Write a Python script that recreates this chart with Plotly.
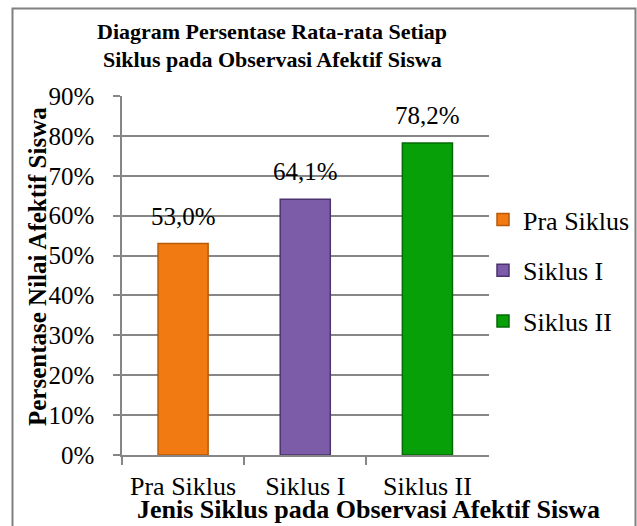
import plotly.graph_objects as go

categories = ["Pra Siklus", "Siklus I", "Siklus II"]
values = [53.0, 64.1, 78.2]
labels = ["53,0%", "64,1%", "78,2%"]
colors = ["#F27A12", "#7C5BA8", "#08A008"]
edge_colors = ["#B85A08", "#4A336E", "#046A04"]
y_ticks = [0, 10, 20, 30, 40, 50, 60, 70, 80, 90]
y_ticktext = [f"{v}%" for v in y_ticks]

FONT = "Liberation Serif"
W, H = 637, 526
PL, PR, PT, PB = 122, 488.5, 96, 455  # plot area in pixels


def fx(x):
    return x / W


def fy(y):
    return 1 - y / H


fig = go.Figure()
for i, c in enumerate(categories):
    fig.add_trace(go.Bar(
        x=[c], y=[values[i]], name=c, width=0.41,
        marker=dict(color=colors[i], line=dict(color=edge_colors[i], width=1.5)),
        legendgroup=c, hoverinfo="skip",
    ))
    fig.add_annotation(x=c, y=values[i], text=labels[i], showarrow=False,
                       yanchor="bottom", yshift=12,
                       font=dict(family=FONT, size=25, color="#000"))

fig.update_layout(
    width=W, height=H,
    margin=dict(l=0, r=0, t=0, b=0, autoexpand=False),
    paper_bgcolor="white", plot_bgcolor="white",
    barmode="overlay",
    showlegend=True,
    legend=dict(x=fx(483), y=fy(196), xanchor="left", yanchor="top",
                font=dict(family=FONT, size=26, color="#000"),
                tracegroupgap=14, itemwidth=30, bgcolor="rgba(0,0,0,0)"),
    xaxis=dict(domain=[fx(PL), fx(PR)], type="category", categoryorder="array",
               categoryarray=categories,
               showgrid=False, showline=True, linecolor="#868686", linewidth=1.5,
               ticks="outside", tickson="boundaries", ticklen=8, tickcolor="#868686",
               tickwidth=1.5, ticklabelstandoff=7,
               tickfont=dict(family=FONT, size=26, color="#000"), range=[-0.5, 2.5]),
    yaxis=dict(domain=[fy(PB), fy(PT)], range=[0, 90], tickvals=y_ticks, ticktext=y_ticktext,
               showgrid=True, gridcolor="#868686", gridwidth=1.5,
               showline=True, linecolor="#868686", linewidth=1.5,
               ticks="outside", ticklen=7, tickcolor="#868686", tickwidth=1.5,
               ticklabelstandoff=14, zeroline=False,
               tickfont=dict(family=FONT, size=25, color="#000")),
)

fig.add_annotation(xref="paper", yref="paper", x=fx(272), y=fy(31),
                   text="<b>Diagram Persentase Rata-rata Setiap</b>", showarrow=False,
                   xanchor="center", yanchor="middle",
                   font=dict(family=FONT, size=22, color="#000"))
fig.add_annotation(xref="paper", yref="paper", x=fx(272), y=fy(59),
                   text="<b>Siklus pada Observasi Afektif Siswa</b>", showarrow=False,
                   xanchor="center", yanchor="middle",
                   font=dict(family=FONT, size=22, color="#000"))
fig.add_annotation(xref="paper", yref="paper", x=fx(368), y=fy(509),
                   text="<b>Jenis Siklus pada Observasi Afektif Siswa</b>", showarrow=False,
                   xanchor="center", yanchor="middle",
                   font=dict(family=FONT, size=26, color="#000"))
fig.add_annotation(xref="paper", yref="paper", x=fx(37), y=fy(267),
                   text="<b>Persentase Nilai Afektif Siswa</b>", showarrow=False, textangle=-90,
                   xanchor="center", yanchor="middle",
                   font=dict(family=FONT, size=25, color="#000"))

fig.add_shape(type="rect", xref="paper", yref="paper",
              x0=fx(12.5), x1=fx(635.5), y0=-0.05, y1=fy(8.5),
              line=dict(color="#808080", width=2), fillcolor="rgba(0,0,0,0)", layer="above")

fig.write_html("out.html")
